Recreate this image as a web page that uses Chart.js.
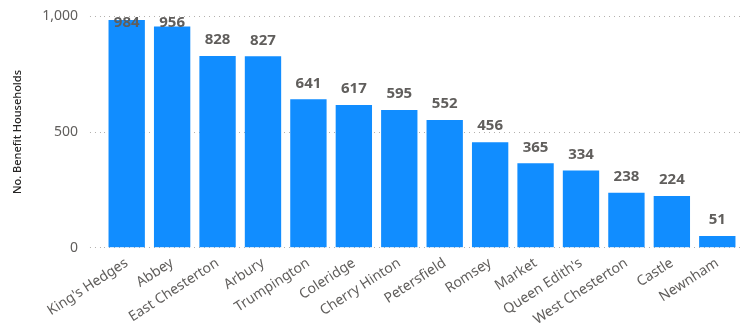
<!DOCTYPE html>
<html>
<head>
<meta charset="utf-8">
<script src="https://cdn.jsdelivr.net/npm/chart.js@4"></script>
<style>
  html, body { margin: 0; padding: 0; background: #fff; }
  #wrap { width: 745px; height: 327px; }
</style>
</head>
<body>
<div id="wrap"><canvas id="chart" width="745" height="327"></canvas></div>
<script>
const wards = ["King's Hedges", "Abbey", "East Chesterton", "Arbury", "Trumpington", "Coleridge",
    "Cherry Hinton", "Petersfield", "Romsey", "Market", "Queen Edith's", "West Chesterton",
    "Castle", "Newnham"];
const households = [984, 956, 828, 827, 641, 617, 595, 552, 456, 365, 334, 238, 224, 51];
const yTicks = [0, 500, 1000];

// value labels on top of each bar, pushed inside when there is no room
const barLabels = {
    id: 'barLabels',
    afterDatasetsDraw(chart) {
        const ctx = chart.ctx;
        const meta = chart.getDatasetMeta(0);
        ctx.save();
        ctx.font = 'bold 15px "Noto Sans", sans-serif';
        ctx.fillStyle = '#605E5C';
        ctx.textAlign = 'center';
        ctx.textBaseline = 'middle';
        meta.data.forEach((bar, i) => {
            let y = bar.y - 16;
            if (y < chart.chartArea.top + 7) y = chart.chartArea.top + 7;
            ctx.fillText(households[i], bar.x, y);
        });
        ctx.restore();
    }
};

const ctx = document.getElementById('chart').getContext('2d');
new Chart(ctx, {
    type: 'bar',
    data: {
        labels: wards,
        datasets: [{
            data: households,
            backgroundColor: '#118DFF',
            barPercentage: 0.8,
            categoryPercentage: 1
        }]
    },
    options: {
        responsive: false,
        animation: false,
        layout: { padding: { left: 11, right: 5, top: 0, bottom: 0 } },
        plugins: {
            legend: { display: false },
            tooltip: { enabled: false }
        },
        scales: {
            x: {
                grid: { display: false },
                border: { display: false },
                ticks: {
                    color: '#605E5C',
                    font: { family: '"Noto Sans", sans-serif', size: 14, lineHeight: 1.0 },
                    maxRotation: 33,
                    minRotation: 33,
                    autoSkip: false,
                    padding: 0
                }
            },
            y: {
                min: 0,
                max: 1000,
                afterBuildTicks(axis) {
                    axis.ticks = yTicks.map(v => ({ value: v }));
                },
                grid: {
                    color: '#B3B0AD',
                    tickLength: 14,
                    tickColor: '#B3B0AD',
                    tickBorderDash: [1, 4]
                },
                border: { display: false, dash: [1, 4] },
                ticks: {
                    color: '#605E5C',
                    font: { family: '"Noto Sans", sans-serif', size: 14, lineHeight: 0.6 },
                    padding: 12,
                    callback: v => v.toLocaleString('en-US')
                },
                title: {
                    display: true,
                    text: 'No. Benefit Households',
                    color: '#252423',
                    font: { family: '"Noto Sans", sans-serif', size: 11, weight: '500' },
                    padding: { top: 0, bottom: 6 }
                }
            }
        }
    },
    plugins: [barLabels]
});
</script>
</body>
</html>
